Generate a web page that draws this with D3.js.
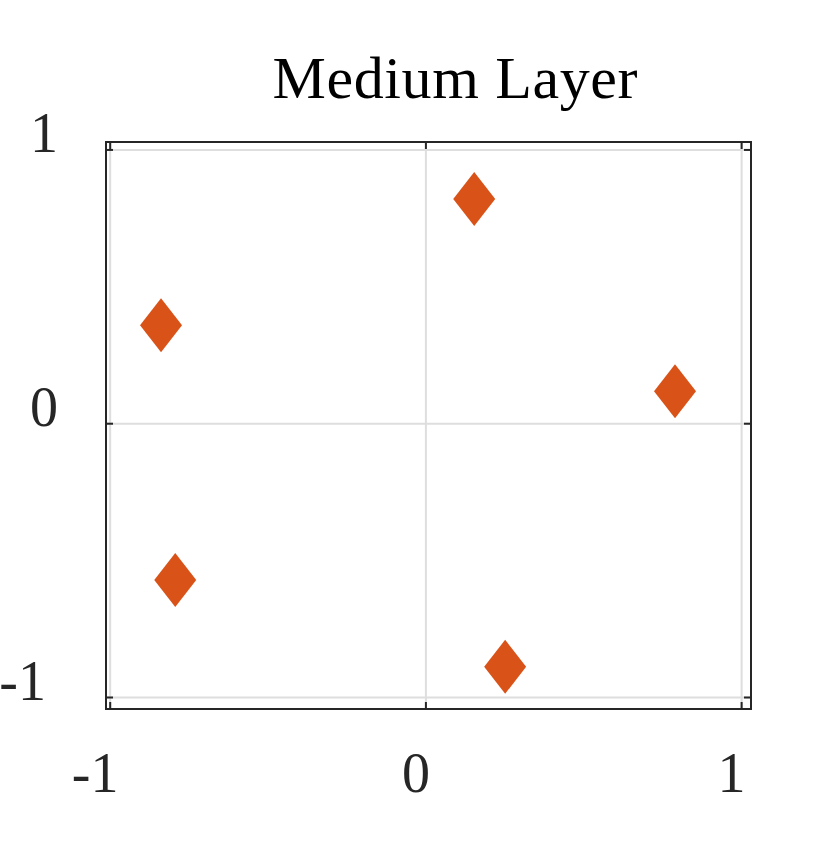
<!DOCTYPE html>
<html><head><meta charset="utf-8">
<script src="https://cdn.jsdelivr.net/npm/d3@7"></script>
<style>body{margin:0;background:#fff}svg{display:block}text{font-family:"Liberation Serif","Times New Roman",serif;fill:#262626}</style>
</head><body>
<script>
const title = "Medium Layer";
const xs = [0.153, -0.839, 0.789, -0.794, 0.251];
const ys = [0.821, 0.360, 0.119, -0.571, -0.888];
const xTicks = [-1, 0, 1];
const yTicks = [-1, 0, 1];
const xTickLabels = ["-1", "0", "1"];
const yTickLabels = ["-1", "0", "1"];

const W = 830, H = 844;
const svg = d3.select("body").append("svg").attr("width", W).attr("height", H);
const L = 106, R = 751, T = 142, B = 709;
const x = d3.scaleLinear().domain([-1.0133, 1.0297]).range([L, R]);
const y = d3.scaleLinear().domain([-1.042, 1.029]).range([B, T]);

// grid
const g = svg.append("g");
g.selectAll(".gx").data(xTicks).enter().append("line")
  .attr("x1", d => x(d)).attr("x2", d => x(d)).attr("y1", T).attr("y2", B)
  .attr("stroke", "#dedede").attr("stroke-width", 2);
g.selectAll(".gy").data(yTicks).enter().append("line")
  .attr("y1", d => y(d)).attr("y2", d => y(d)).attr("x1", L).attr("x2", R)
  .attr("stroke", "#dedede").attr("stroke-width", 2);

// box
svg.append("rect").attr("x", L).attr("y", T).attr("width", R - L).attr("height", B - T)
  .attr("fill", "none").attr("stroke", "#262626").attr("stroke-width", 2);

// ticks
const tl = 7;
xTicks.forEach(d => {
  svg.append("line").attr("x1", x(d)).attr("x2", x(d)).attr("y1", B).attr("y2", B - tl).attr("stroke", "#262626").attr("stroke-width", 2);
  svg.append("line").attr("x1", x(d)).attr("x2", x(d)).attr("y1", T).attr("y2", T + tl).attr("stroke", "#262626").attr("stroke-width", 2);
});
yTicks.forEach(d => {
  svg.append("line").attr("y1", y(d)).attr("y2", y(d)).attr("x1", L).attr("x2", L + tl).attr("stroke", "#262626").attr("stroke-width", 2);
  svg.append("line").attr("y1", y(d)).attr("y2", y(d)).attr("x1", R).attr("x2", R - tl).attr("stroke", "#262626").attr("stroke-width", 2);
});

// tick labels
svg.selectAll(".xl").data(xTicks).enter().append("text")
  .attr("x", (d, i) => x(d) - 10 - (xTickLabels[i].startsWith("-") ? 5 : 0)).attr("y", 792).attr("text-anchor", "middle")
  .attr("font-size", 56).text((d, i) => xTickLabels[i]);
svg.selectAll(".yl").data(yTicks).enter().append("text")
  .attr("x", (d, i) => 58 - (yTickLabels[i].startsWith("-") ? 12 : 0)).attr("y", d => y(d) + 2).attr("text-anchor", "end")
  .attr("font-size", 56).text((d, i) => yTickLabels[i]);

// title
svg.append("text").attr("x", 455).attr("y", 98).attr("text-anchor", "middle")
  .attr("font-size", 60).attr("textLength", 365).attr("lengthAdjust", "spacing")
  .style("fill", "#000").text(title);

// markers
const hw = 21, hh = 27;
svg.selectAll(".pt").data(xs.map((v, i) => [v, ys[i]])).enter().append("path")
  .attr("d", d => {
    const cx = x(d[0]), cy = y(d[1]);
    return `M${cx},${cy - hh}L${cx + hw},${cy}L${cx},${cy + hh}L${cx - hw},${cy}Z`;
  })
  .attr("fill", "#D95319");
</script>
</body></html>
